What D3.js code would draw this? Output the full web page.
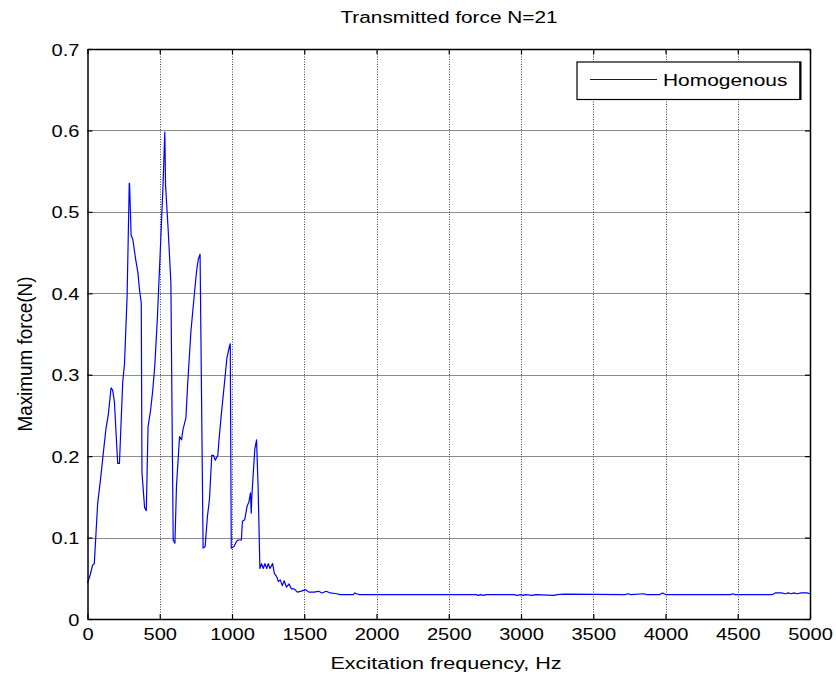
<!DOCTYPE html>
<html>
<head>
<meta charset="utf-8">
<script src="https://cdn.jsdelivr.net/npm/d3@7/dist/d3.min.js"></script>
<style>
  html, body { margin: 0; padding: 0; background: #fff; }
  svg { display: block; }
  text { font-family: "Liberation Sans", Arial, Helvetica, sans-serif; fill: #000; }
</style>
</head>
<body>
<script>
// Excitation frequency (Hz) and maximum transmitted force (N)
const freqHz = [
  0, 20, 35, 47, 70, 93, 110, 128, 144, 163, 174, 186, 209, 221, 244, 256, 274, 289, 291,
  302, 314, 333, 349, 360, 372, 377, 395, 407, 419, 437, 451, 465, 484, 507, 523, 535, 540,
  558, 577, 593, 605, 616, 637, 651, 660, 681, 693, 716, 740, 756, 767, 779, 800, 814, 830,
  844, 860, 872, 884, 902, 909, 926, 949, 965, 984, 988, 995, 1014, 1030, 1042, 1065, 1072,
  1088, 1105, 1116, 1128, 1133, 1137, 1158, 1170, 1181, 1193, 1205, 1216, 1228, 1240, 1251,
  1263, 1281, 1293, 1309, 1321, 1334, 1348, 1361, 1377, 1395, 1411, 1430, 1452, 1475, 1509,
  1532, 1566, 1600, 1623, 1652, 1680, 1725, 1748, 1839, 1850, 1861, 1884, 2690, 2705, 2720,
  2740, 2760, 2950, 2975, 3000, 3015, 3030, 3080, 3100, 3230, 3250, 3300, 3720, 3740, 3760,
  3850, 3870, 3960, 3980, 4000, 4450, 4465, 4480, 4740, 4760, 4800, 4830, 4850, 4870, 4890,
  4910, 4940, 4980, 5000
];
const forceN = [
  0.044, 0.055, 0.066, 0.068, 0.141, 0.176, 0.205, 0.234, 0.251, 0.284, 0.281, 0.267, 0.191, 0.191, 0.292, 0.313, 0.396, 0.535, 0.535,
  0.471, 0.466, 0.442, 0.425, 0.404, 0.388, 0.180, 0.137, 0.133, 0.236, 0.257, 0.280, 0.309, 0.371, 0.466, 0.535, 0.598, 0.533,
  0.479, 0.413, 0.097, 0.093, 0.164, 0.224, 0.220, 0.232, 0.247, 0.288, 0.354, 0.400, 0.429, 0.442, 0.448, 0.087, 0.089, 0.126,
  0.147, 0.201, 0.201, 0.195, 0.201, 0.218, 0.251, 0.292, 0.321, 0.336, 0.338, 0.087, 0.089, 0.095, 0.097, 0.097, 0.120,
  0.122, 0.139, 0.143, 0.155, 0.130, 0.150, 0.209, 0.220, 0.160, 0.062, 0.068, 0.062, 0.068, 0.062, 0.068,
  0.062, 0.068, 0.056, 0.052, 0.046, 0.048, 0.041, 0.047, 0.039, 0.043, 0.037, 0.037, 0.033, 0.034, 0.036,
  0.033, 0.033, 0.034, 0.032, 0.034, 0.032, 0.031, 0.030, 0.030, 0.032, 0.031, 0.030, 0.030, 0.029, 0.030,
  0.029, 0.030, 0.030, 0.029, 0.030, 0.029, 0.030, 0.029, 0.030, 0.029, 0.030, 0.0305, 0.030, 0.031, 0.030,
  0.031, 0.030, 0.030, 0.032, 0.030, 0.030, 0.031, 0.030, 0.030, 0.032, 0.032, 0.031, 0.032, 0.031, 0.032,
  0.031, 0.032, 0.032, 0.031
];

const xTicks = [0, 500, 1000, 1500, 2000, 2500, 3000, 3500, 4000, 4500, 5000];
const yTicks = [0, 0.1, 0.2, 0.3, 0.4, 0.5, 0.6, 0.7];

const titleText = "Transmitted force N=21";
const xLabel = "Excitation frequency, Hz";
const yLabel = "Maximum force(N)";
const seriesName = "Homogenous";

const W = 836, H = 677;
const m = { left: 87.5, right: 810, top: 49, bottom: 619 };

const svg = d3.select("body").append("svg")
  .attr("width", W).attr("height", H);

const x = d3.scaleLinear().domain([0, 5000]).range([m.left, m.right]);
const y = d3.scaleLinear().domain([0, 0.7]).range([m.bottom, m.top]);

// widen glyphs horizontally (the figure's type is set slightly extended)
function widen(sel, k) {
  sel.each(function () {
    const w = this.getComputedTextLength();
    if (w > 0) d3.select(this).attr("textLength", w * k).attr("lengthAdjust", "spacingAndGlyphs");
  });
}

// grid: solid grey horizontals, dotted dark verticals
const grid = svg.append("g");
grid.selectAll("line.hg").data(yTicks.slice(1, -1)).join("line")
  .attr("class", "hg")
  .attr("x1", m.left).attr("x2", m.right)
  .attr("y1", d => Math.round(y(d)) + 0.5).attr("y2", d => Math.round(y(d)) + 0.5)
  .attr("stroke", "#8c8c8c").attr("stroke-width", 1);
grid.selectAll("line.vg").data(xTicks.slice(1, -1)).join("line")
  .attr("class", "vg")
  .attr("x1", d => Math.round(x(d)) + 0.5).attr("x2", d => Math.round(x(d)) + 0.5)
  .attr("y1", m.top).attr("y2", m.bottom)
  .attr("stroke", "#444").attr("stroke-width", 1).attr("stroke-dasharray", "1,1.5");

// data line
const line = d3.line().x((d, i) => x(freqHz[i])).y((d, i) => y(forceN[i]));
svg.append("path")
  .attr("d", line(freqHz))
  .attr("fill", "none").attr("stroke", "#0000ff").attr("stroke-width", 1.2)
  .attr("stroke-linejoin", "round");

// axes with inward ticks on all four sides
const tl = 5;
const fmtY = d => d === 0 ? "0" : d3.format(".1f")(d);
const axB = svg.append("g").attr("transform", `translate(0,${m.bottom})`)
  .call(d3.axisBottom(x).tickValues(xTicks).tickSizeInner(-tl).tickSizeOuter(0).tickPadding(9).tickFormat(d3.format("d")));
const axT = svg.append("g").attr("transform", `translate(0,${m.top})`)
  .call(d3.axisTop(x).tickValues(xTicks).tickSizeInner(-tl).tickSizeOuter(0).tickFormat(""));
const axL = svg.append("g").attr("transform", `translate(${m.left},0)`)
  .call(d3.axisLeft(y).tickValues(yTicks).tickSizeInner(-tl).tickSizeOuter(0).tickPadding(8).tickFormat(fmtY));
const axR = svg.append("g").attr("transform", `translate(${m.right},0)`)
  .call(d3.axisRight(y).tickValues(yTicks).tickSizeInner(-tl).tickSizeOuter(0).tickFormat(""));
[axB, axT, axL, axR].forEach(a => {
  a.select(".domain").attr("stroke", "#000").attr("stroke-width", 1.5);
  a.selectAll(".tick line").attr("stroke", "#000").attr("stroke-width", 1.2);
  a.selectAll("text").attr("font-size", 17).attr("font-family", "'Liberation Sans', Arial, sans-serif").attr("fill", "#000");
});
axL.selectAll("text").attr("dy", "0.36em");
widen(axB.selectAll(".tick text"), 1.18);
widen(axL.selectAll(".tick text"), 1.18);

// titles
svg.append("text").attr("x", 449).attr("y", 23).attr("text-anchor", "middle")
  .attr("font-size", 16).text(titleText).call(widen, 1.3);
svg.append("text").attr("x", 446).attr("y", 669).attr("text-anchor", "middle")
  .attr("font-size", 17).text(xLabel).call(widen, 1.27);
svg.append("text").attr("transform", `translate(32,354) rotate(-90) scale(1,1.2)`)
  .attr("text-anchor", "middle").attr("font-size", 17)
  .attr("textLength", 155).attr("lengthAdjust", "spacingAndGlyphs").text(yLabel);

// legend
const lg = svg.append("g");
lg.append("rect").attr("x", 577).attr("y", 62).attr("width", 223).attr("height", 37.5)
  .attr("fill", "#fff").attr("stroke", "#000").attr("stroke-width", 1.2);
lg.append("line").attr("x1", 800.5).attr("x2", 800.5).attr("y1", 61.5).attr("y2", 100)
  .attr("stroke", "#000").attr("stroke-width", 2);
lg.append("line").attr("x1", 590).attr("x2", 657).attr("y1", 79.5).attr("y2", 79.5)
  .attr("stroke", "#0000ff").attr("stroke-width", 1);
lg.append("text").attr("x", 663).attr("y", 85.5).attr("font-size", 17).text(seriesName).call(widen, 1.23);
</script>
</body>
</html>
